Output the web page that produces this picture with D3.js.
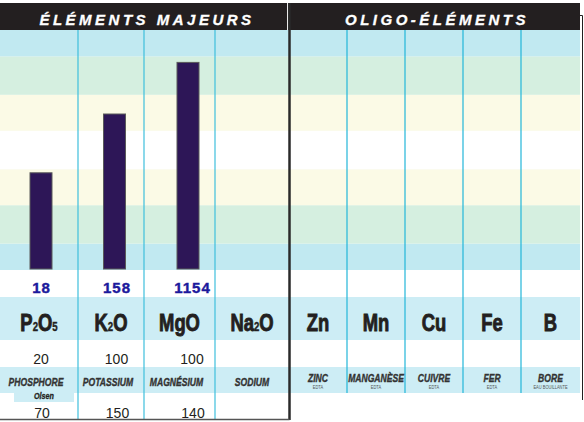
<!DOCTYPE html>
<html>
<head>
<meta charset="utf-8">
<script src="https://cdn.jsdelivr.net/npm/d3@7"></script>
<style>
  body { margin: 0; background: #fff; }
  svg { display: block; font-family: "Liberation Sans", Arial, sans-serif; }
</style>
</head>
<body>
<svg id="chart" width="584" height="422"></svg>
<script>
// donnees
const elementsMajeurs = ["P2O5", "K2O", "MgO", "Na2O"]
const elementsOligo = ["Zn", "Mn", "Cu", "Fe", "B"]
const nomsMajeurs = ["PHOSPHORE", "POTASSIUM", "MAGNÉSIUM", "SODIUM"]
const nomsOligo = ["ZINC", "MANGANÈSE", "CUIVRE", "FER", "BORE"]
const methodesOligo = ["EDTA", "EDTA", "EDTA", "EDTA", "EAU BOUILLANTE"]
const resultats = [18, 158, 1154]
const niveaux = [40.5, 65, 86.5]      // indice de niveau (0-100)
const normesBasses = [20, 100, 100]
const normesHautes = [70, 150, 140]
const seuilsBandes = [0, 11, 27, 42, 58, 73, 89, 100]

// mise en page
const svg = d3.select("#chart")
const colEdges = [0, 78, 144, 215, 289, 347, 405, 463, 521, 580]
const bandColors = ["#c1e9f1", "#d5efe0", "#fbfae6", "#ffffff", "#fbfae6", "#d5efe0", "#c1e9f1"]
const tableBlue = "#cdedf5"
const cyan = "#3fbfdc"
const divX = 289.5

const yScale = d3.scaleLinear().domain([0, 100]).range([270, 30])
const xBar = d3.scalePoint().domain(elementsMajeurs.slice(0, 3)).range([41, 188])
const xVal = d3.scalePoint().domain(elementsMajeurs.slice(0, 3)).range([41, 192])
const colCenter = i => (colEdges[i] + colEdges[i + 1]) / 2

// bandes de niveau
d3.range(seuilsBandes.length - 1).forEach(i => {
  svg.append("rect")
    .attr("x", 0).attr("width", 580)
    .attr("y", yScale(seuilsBandes[i + 1]))
    .attr("height", yScale(seuilsBandes[i]) - yScale(seuilsBandes[i + 1]))
    .attr("fill", bandColors[i])
})

// bandes du tableau
svg.append("rect").attr("x", 0).attr("y", 297).attr("width", 580).attr("height", 43).attr("fill", tableBlue)
svg.append("rect").attr("x", 0).attr("y", 367).attr("width", 580).attr("height", 26).attr("fill", tableBlue)
svg.append("rect").attr("x", 14).attr("y", 387).attr("width", 60).attr("height", 15).attr("fill", tableBlue)

// lignes de colonnes
colEdges.slice(1, 4).forEach(x => {
  svg.append("line").attr("x1", x).attr("x2", x).attr("y1", 30).attr("y2", 420)
    .attr("stroke", cyan).attr("stroke-width", 1.2)
})
colEdges.slice(5, 9).forEach(x => {
  svg.append("line").attr("x1", x).attr("x2", x).attr("y1", 30).attr("y2", 393)
    .attr("stroke", "#22b6d9").attr("stroke-width", 1.2)
})

// barres
svg.selectAll(".bar").data(niveaux).enter().append("rect")
  .attr("class", "bar")
  .attr("x", (d, i) => xBar(elementsMajeurs[i]) - 11)
  .attr("width", 22)
  .attr("y", d => yScale(d))
  .attr("height", d => yScale(0) - 1 - yScale(d))
  .attr("fill", "#2d1657")
  .attr("stroke", "#5a5a5a")
  .attr("stroke-width", 1)

// en-tete
svg.append("rect").attr("x", 0).attr("y", 3).attr("width", 580).attr("height", 27).attr("fill", "#231f20")
svg.append("line").attr("x1", 287.6).attr("x2", 287.6).attr("y1", 3).attr("y2", 30).attr("stroke", "#fff").attr("stroke-width", 1)
const titres = [["ÉLÉMENTS MAJEURS", 147], ["OLIGO-ÉLÉMENTS", 437]]
titres.forEach(t => {
  svg.append("text").text(t[0])
    .attr("x", t[1]).attr("y", 25)
    .attr("text-anchor", "middle")
    .attr("fill", "#fff")
    .attr("font-size", 15)
    .attr("font-weight", "bold")
    .attr("font-style", "italic")
    .attr("stroke", "#fff").attr("stroke-width", 0.3)
    .style("letter-spacing", "3.5px")
})

// texte condense
function condensed (x, y, size, weight, style, fill, scale, epais) {
  return svg.append("text")
    .attr("transform", "translate(" + x + "," + y + ") scale(" + scale + ",1)")
    .attr("text-anchor", "middle")
    .attr("fill", fill)
    .attr("stroke", epais ? fill : "none")
    .attr("stroke-width", epais || 0)
    .attr("font-size", size)
    .attr("font-weight", weight)
    .attr("font-style", style)
}

// symboles chimiques (chiffres en indice)
function symbole (nom, x) {
  const t = condensed(x, 331, 23, "bold", "normal", "#231f20", 0.8, 0.9)
  nom.match(/[A-Za-z]+|\d+/g).forEach(part => {
    t.append("tspan").text(part).attr("font-size", /\d/.test(part) ? 12 : 23)
      .attr("stroke-width", /\d/.test(part) ? 0.4 : 0.9)
  })
}
elementsMajeurs.forEach((d, i) => symbole(d, colCenter(i)))
elementsOligo.forEach((d, i) => symbole(d, colCenter(i + 4)))

// resultats
resultats.forEach((d, i) => {
  svg.append("text").text(d)
    .attr("x", xVal(elementsMajeurs[i]) + 0.5).attr("y", 293)
    .attr("text-anchor", "middle")
    .attr("fill", "#1c1a9c")
    .attr("stroke", "#1c1a9c").attr("stroke-width", 0.4)
    .attr("font-size", 15).attr("font-weight", "bold")
    .style("letter-spacing", "1px")
})

// normes
normesBasses.forEach((d, i) => {
  svg.append("text").text(d)
    .attr("x", xVal(elementsMajeurs[i])).attr("y", 364)
    .attr("text-anchor", "middle").attr("fill", "#231f20")
    .attr("font-size", 14)
})
normesHautes.forEach((d, i) => {
  svg.append("text").text(d)
    .attr("x", xVal(elementsMajeurs[i]) + 1).attr("y", 418)
    .attr("text-anchor", "middle").attr("fill", "#231f20")
    .attr("font-size", 14)
})

// noms
nomsMajeurs.forEach((d, i) => {
  condensed(colCenter(i) - (i < 3 ? 3 : 0), 386, 11, "bold", "italic", "#333", 0.78, 0.35).text(d)
})
nomsOligo.forEach((d, i) => {
  condensed(colCenter(i + 4), 382, 11, "bold", "italic", "#333", 0.78, 0.35).text(d)
  condensed(colCenter(i + 4), 388.5, 5, "normal", "normal", "#555", 0.8).text(methodesOligo[i])
})
condensed(44, 398.5, 9, "bold", "italic", "#231f20", 0.8, 0.3).text("Olsen")

// cadres
svg.append("line").attr("x1", divX).attr("x2", divX).attr("y1", 3).attr("y2", 420)
  .attr("stroke", "#2a2a2a").attr("stroke-width", 2.5)
svg.append("line").attr("x1", 0).attr("x2", divX).attr("y1", 419.5).attr("y2", 419.5)
  .attr("stroke", "#555").attr("stroke-width", 1.5)
svg.append("path").attr("d", "M579,15.5H582.5V400")
  .attr("fill", "none").attr("stroke", "#231f20").attr("stroke-width", 1)
</script>
</body>
</html>
